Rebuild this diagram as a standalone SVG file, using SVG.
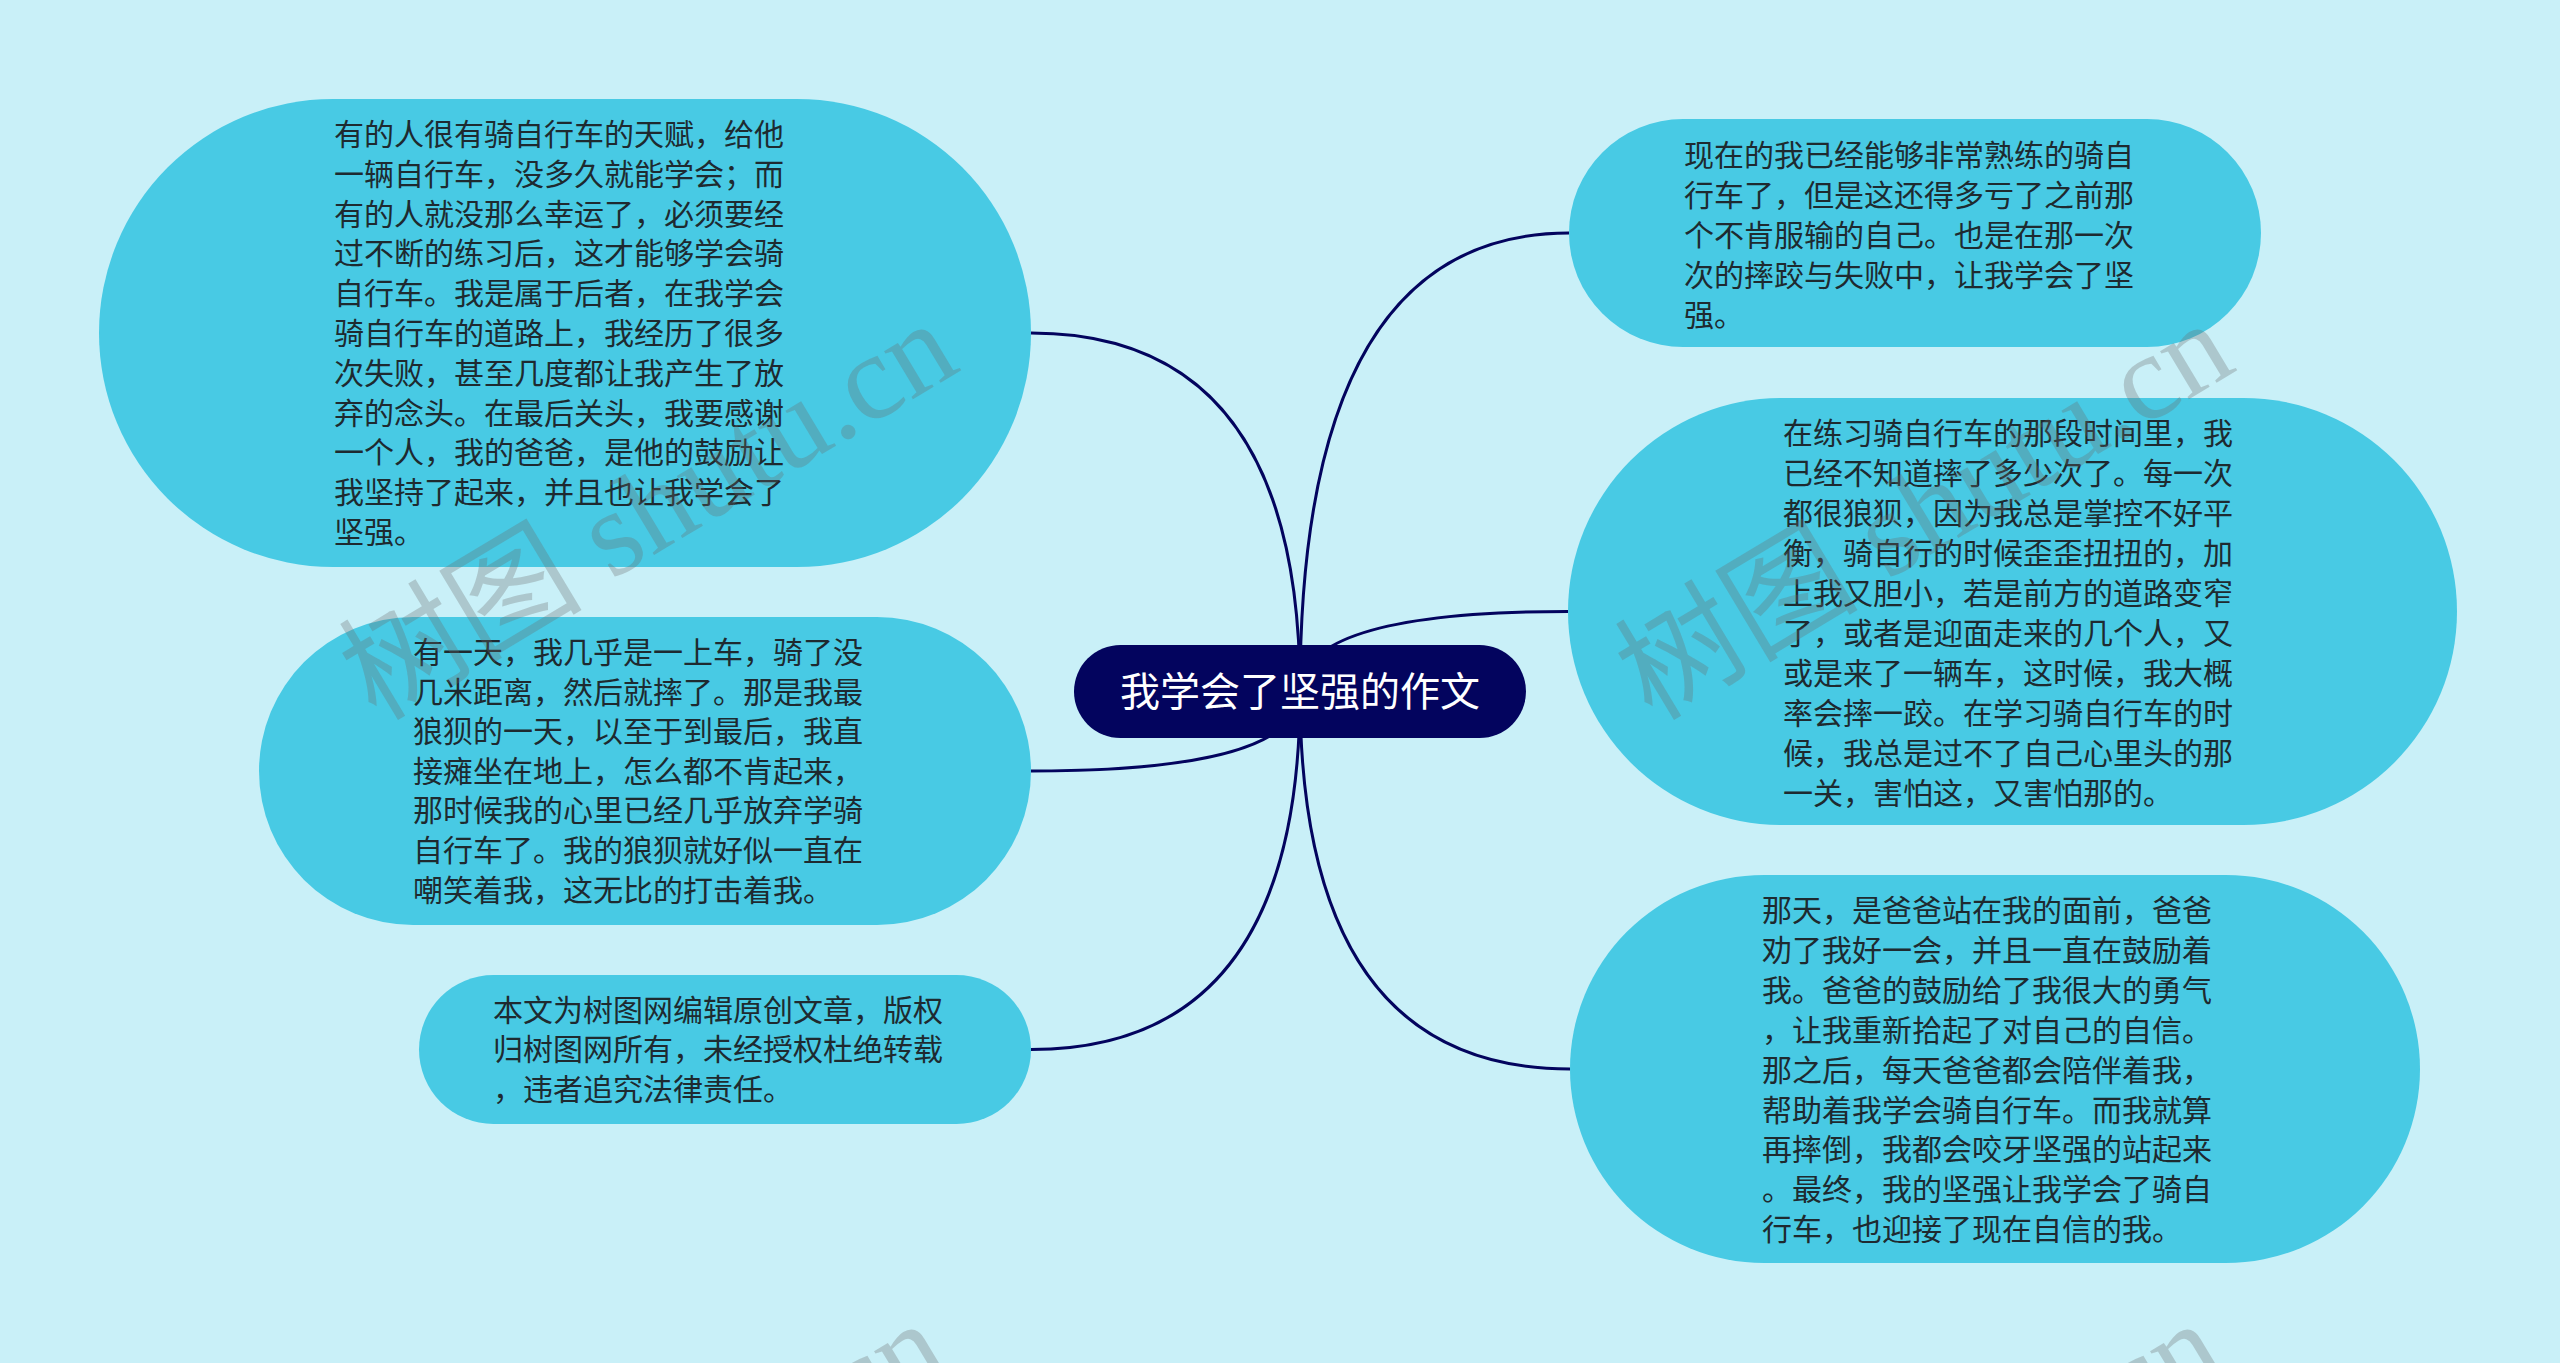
<svg xmlns="http://www.w3.org/2000/svg" width="2560" height="1363" viewBox="0 0 2560 1363">
<style>
.bg{fill:#c9f0f8}
.leaf{fill:#48cae4}
.root{fill:#03045e}
.edge{fill:none;stroke:#03045e;stroke-width:3}
.t{font-family:"Noto Sans CJK SC","Microsoft YaHei",sans-serif;font-size:30px;fill:#1e2a30}
.rt{font-family:"Noto Sans CJK SC","Microsoft YaHei",sans-serif;font-size:40px;fill:#ffffff}
.wm{font-family:"Liberation Serif","Noto Sans CJK SC",serif;font-size:122px;fill:#6a6a6a;fill-opacity:0.3}
</style>
<rect class="bg" x="0" y="0" width="2560" height="1363"/>
<g id="connectors">
<path class="edge" d="M1031,333 Q1300,333 1300,692"/>
<path class="edge" d="M1031,771 Q1300,771 1300,692"/>
<path class="edge" d="M1031,1049.5 Q1300,1049.5 1300,692"/>
<path class="edge" d="M1569,233 Q1300,233 1300,692"/>
<path class="edge" d="M1568,611.5 Q1300,611.5 1300,692"/>
<path class="edge" d="M1570,1069 Q1300,1069 1300,692"/>
</g>
<g id="root">
<rect class="root" x="1074" y="645" width="452" height="93" rx="46.5"/>
<text class="rt" x="1300" y="706" text-anchor="middle">我学会了坚强的作文</text>
</g>
<g id="left1">
<rect class="leaf" x="99" y="99" width="932" height="468" rx="234"/>
<text class="t" x="334" y="145"><tspan x="334">有的人很有骑自行车的天赋，给他</tspan><tspan x="334" dy="39.8">一辆自行车，没多久就能学会；而</tspan><tspan x="334" dy="39.8">有的人就没那么幸运了，必须要经</tspan><tspan x="334" dy="39.8">过不断的练习后，这才能够学会骑</tspan><tspan x="334" dy="39.8">自行车。我是属于后者，在我学会</tspan><tspan x="334" dy="39.8">骑自行车的道路上，我经历了很多</tspan><tspan x="334" dy="39.8">次失败，甚至几度都让我产生了放</tspan><tspan x="334" dy="39.8">弃的念头。在最后关头，我要感谢</tspan><tspan x="334" dy="39.8">一个人，我的爸爸，是他的鼓励让</tspan><tspan x="334" dy="39.8">我坚持了起来，并且也让我学会了</tspan><tspan x="334" dy="39.8">坚强。</tspan></text>
</g>
<g id="left2">
<rect class="leaf" x="259" y="617" width="772" height="308" rx="154"/>
<text class="t" x="413" y="663"><tspan x="413">有一天，我几乎是一上车，骑了没</tspan><tspan x="413" dy="39.6">几米距离，然后就摔了。那是我最</tspan><tspan x="413" dy="39.6">狼狈的一天，以至于到最后，我直</tspan><tspan x="413" dy="39.6">接瘫坐在地上，怎么都不肯起来，</tspan><tspan x="413" dy="39.6">那时候我的心里已经几乎放弃学骑</tspan><tspan x="413" dy="39.6">自行车了。我的狼狈就好似一直在</tspan><tspan x="413" dy="39.6">嘲笑着我，这无比的打击着我。</tspan></text>
</g>
<g id="left3">
<rect class="leaf" x="419" y="975" width="612" height="149" rx="74.5"/>
<text class="t" x="493" y="1021"><tspan x="493">本文为树图网编辑原创文章，版权</tspan><tspan x="493" dy="39.3">归树图网所有，未经授权杜绝转载</tspan><tspan x="493" dy="39.3">，违者追究法律责任。</tspan></text>
</g>
<g id="right1">
<rect class="leaf" x="1569" y="119" width="692" height="228" rx="114"/>
<text class="t" x="1684" y="166"><tspan x="1684">现在的我已经能够非常熟练的骑自</tspan><tspan x="1684" dy="40">行车了，但是这还得多亏了之前那</tspan><tspan x="1684" dy="40">个不肯服输的自己。也是在那一次</tspan><tspan x="1684" dy="40">次的摔跤与失败中，让我学会了坚</tspan><tspan x="1684" dy="40">强。</tspan></text>
</g>
<g id="right2">
<rect class="leaf" x="1568" y="398" width="889" height="427" rx="213.5"/>
<text class="t" x="1783" y="444"><tspan x="1783">在练习骑自行车的那段时间里，我</tspan><tspan x="1783" dy="40">已经不知道摔了多少次了。每一次</tspan><tspan x="1783" dy="40">都很狼狈，因为我总是掌控不好平</tspan><tspan x="1783" dy="40">衡，骑自行的时候歪歪扭扭的，加</tspan><tspan x="1783" dy="40">上我又胆小，若是前方的道路变窄</tspan><tspan x="1783" dy="40">了，或者是迎面走来的几个人，又</tspan><tspan x="1783" dy="40">或是来了一辆车，这时候，我大概</tspan><tspan x="1783" dy="40">率会摔一跤。在学习骑自行车的时</tspan><tspan x="1783" dy="40">候，我总是过不了自己心里头的那</tspan><tspan x="1783" dy="40">一关，害怕这，又害怕那的。</tspan></text>
</g>
<g id="right3">
<rect class="leaf" x="1570" y="875" width="850" height="388" rx="194"/>
<text class="t" x="1762" y="921"><tspan x="1762">那天，是爸爸站在我的面前，爸爸</tspan><tspan x="1762" dy="39.9">劝了我好一会，并且一直在鼓励着</tspan><tspan x="1762" dy="39.9">我。爸爸的鼓励给了我很大的勇气</tspan><tspan x="1762" dy="39.9">，让我重新拾起了对自己的自信。</tspan><tspan x="1762" dy="39.9">那之后，每天爸爸都会陪伴着我，</tspan><tspan x="1762" dy="39.9">帮助着我学会骑自行车。而我就算</tspan><tspan x="1762" dy="39.9">再摔倒，我都会咬牙坚强的站起来</tspan><tspan x="1762" dy="39.9">。最终，我的坚强让我学会了骑自</tspan><tspan x="1762" dy="39.9">行车，也迎接了现在自信的我。</tspan></text>
</g>
<g id="watermarks">
<text class="wm" x="376" y="722" transform="rotate(-31 376 722)">树图 shutu.cn</text>
<text class="wm" x="1652" y="722" transform="rotate(-31 1652 722)">树图 shutu.cn</text>
<text class="wm" x="366" y="1722" transform="rotate(-31 366 1722)">树图 shutu.cn</text>
<text class="wm" x="1642" y="1722" transform="rotate(-31 1642 1722)">树图 shutu.cn</text>
</g>
</svg>
